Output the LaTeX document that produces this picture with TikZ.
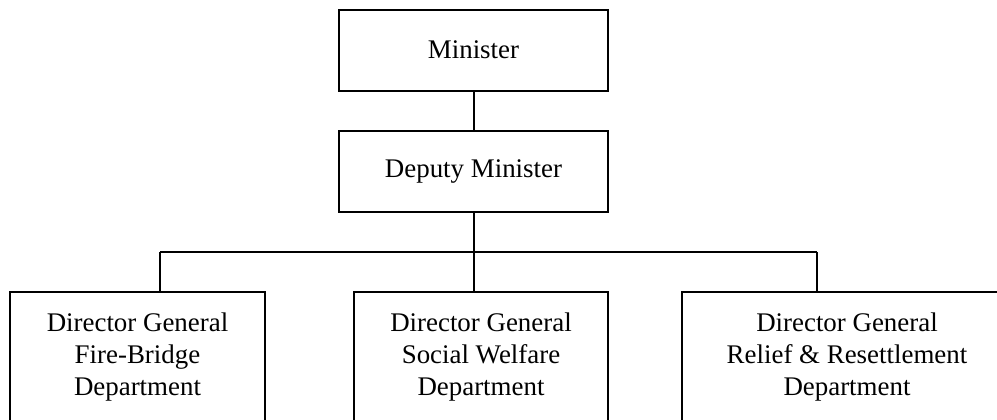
\documentclass[tikz,border=0pt]{standalone}
\usepackage{fontspec}
\setmainfont{Liberation Serif}
\usetikzlibrary{positioning,calc}

\begin{document}
\begin{tikzpicture}[x=0.5pt,y=-0.5pt,line width=1pt,
            office/.style={draw,rectangle,align=center,inner sep=0pt,outer sep=0pt,
                font=\fontsize{13.45}{16}\selectfont},
            topbox/.style={office,minimum width=134.5pt,minimum height=40.5pt},
            deptbox/.style={office,minimum height=65pt}]
\useasboundingbox (0,0) rectangle (997,419);
\clip (0,0) rectangle (997,419);
\node[topbox] (minister) at (473.5,50) {Minister};
\node[topbox] (deputy) at (473.5,171.5) {Deputy Minister};
\node[deptbox,minimum width=127.5pt] (fire) at (137.5,357) {Director General\\Fire-Bridge\\Department};
\node[deptbox,minimum width=127pt] (social) at (481,357) {Director General\\Social Welfare\\Department};
\node[deptbox,minimum width=165pt] (relief) at (847,357) {Director General\\Relief \& Resettlement\\Department};
\coordinate (busL) at (160,252);
\coordinate (busR) at (817,252);
\draw (minister) -- (deputy);
\draw (busL) -- (busR);
\draw (deputy.south) -- (deputy.south |- busL);
\draw (busL) -- (busL |- fire.north);
\draw (deputy.south |- busL) -- (deputy.south |- social.north);
\draw (busR) -- (busR |- relief.north);
\end{tikzpicture}
\end{document}
